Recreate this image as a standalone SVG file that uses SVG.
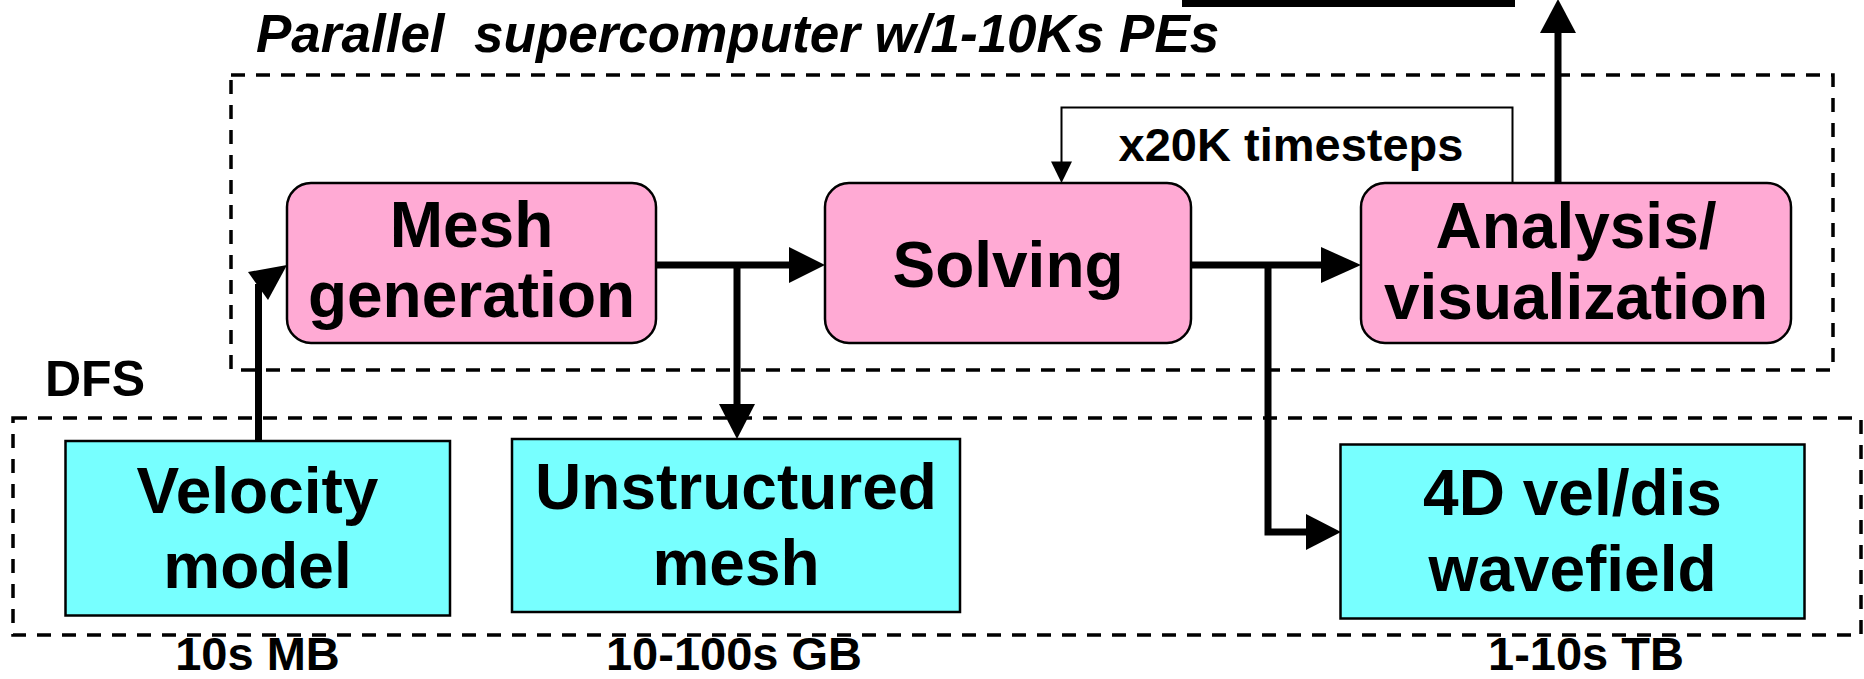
<svg xmlns="http://www.w3.org/2000/svg" width="1864" height="679" viewBox="0 0 1864 679">
  <style>
    text { font-family: "Liberation Sans", Arial, sans-serif; font-weight: bold; fill: #000; }
    .title { font-size: 53px; font-style: italic; white-space: pre; }
    .box-label { font-size: 64px; text-anchor: middle; }
    .small { font-size: 47px; text-anchor: middle; }
    .region { fill: none; stroke: #000; stroke-width: 3.5; stroke-dasharray: 14 11; }
    .proc { fill: #FFAAD4; stroke: #000; stroke-width: 2.5; }
    .store { fill: #77FFFF; stroke: #000; stroke-width: 2.5; }
    .flow { fill: none; stroke: #000; stroke-width: 7; stroke-linejoin: miter; }
    .loop { fill: none; stroke: #000; stroke-width: 2; }
    .head { fill: #000; stroke: none; }
  </style>

  <!-- enclosing regions -->
  <g id="regions">
    <rect id="supercomputer" class="region" x="231" y="75" width="1602" height="295"/>
    <rect id="dfs" class="region" x="13" y="418" width="1848" height="217"/>
    <text class="title" x="256" y="52">Parallel  supercomputer w/1-10Ks PEs</text>
    <text x="45" y="396" style="font-size:50px">DFS</text>
  </g>

  <!-- connectors -->
  <g id="connectors">
    <!-- velocity model into mesh generation -->
    <line class="flow" x1="258.5" y1="441" x2="258.5" y2="284"/>
    <polygon class="head" points="248,272 287,265 268,300"/>

    <!-- mesh generation to solving, with branch to unstructured mesh -->
    <line class="flow" x1="656" y1="265" x2="791" y2="265"/>
    <polygon class="head" points="789,247 825,265 789,283"/>
    <line class="flow" x1="737" y1="265" x2="737" y2="406"/>
    <polygon class="head" points="719,404 755,404 737,439"/>

    <!-- solving to analysis, with branch to wavefield -->
    <line class="flow" x1="1191" y1="265" x2="1323" y2="265"/>
    <polygon class="head" points="1321,247 1361,265 1321,283"/>
    <polyline class="flow" points="1268,265 1268,532 1308,532"/>
    <polygon class="head" points="1306,514 1341,532 1306,550"/>

    <!-- timestep loop -->
    <polyline class="loop" points="1512.5,183 1512.5,107.5 1061.5,107.5 1061.5,163"/>
    <polygon class="head" points="1051,161.5 1072,161.5 1061.5,183"/>
    <text x="1291" y="161" style="font-size:47px;text-anchor:middle">x20K timesteps</text>

    <!-- analysis output upward -->
    <line class="flow" x1="1558" y1="183" x2="1558" y2="31"/>
    <polygon class="head" points="1540,33 1576,33 1558,-1"/>
    <rect class="head" x="1182" y="0" width="333" height="7"/>
  </g>

  <!-- processing stages -->
  <g id="mesh-generation">
    <rect class="proc" x="287" y="183" width="369" height="160" rx="24"/>
    <text class="box-label" x="471.5" y="247">Mesh</text>
    <text class="box-label" x="471.5" y="317">generation</text>
  </g>
  <g id="solving">
    <rect class="proc" x="825" y="183" width="366" height="160" rx="24"/>
    <text class="box-label" x="1008" y="287">Solving</text>
  </g>
  <g id="analysis">
    <rect class="proc" x="1361" y="183" width="430" height="160" rx="24"/>
    <text class="box-label" x="1576" y="248">Analysis/</text>
    <text class="box-label" x="1576" y="319">visualization</text>
  </g>

  <!-- stored data sets -->
  <g id="velocity-model">
    <rect class="store" x="65.5" y="441" width="384.5" height="174.5"/>
    <text class="box-label" x="257.5" y="513">Velocity</text>
    <text class="box-label" x="257.5" y="588">model</text>
    <text class="small" x="257.5" y="670">10s MB</text>
  </g>
  <g id="unstructured-mesh">
    <rect class="store" x="512" y="439" width="448" height="173"/>
    <text class="box-label" x="736" y="509">Unstructured</text>
    <text class="box-label" x="736" y="585">mesh</text>
    <text class="small" x="734" y="670">10-100s GB</text>
  </g>
  <g id="wavefield">
    <rect class="store" x="1340.5" y="444.5" width="464" height="174"/>
    <text class="box-label" x="1572.5" y="515">4D vel/dis</text>
    <text class="box-label" x="1572.5" y="591">wavefield</text>
    <text class="small" x="1586" y="670">1-10s TB</text>
  </g>
</svg>
